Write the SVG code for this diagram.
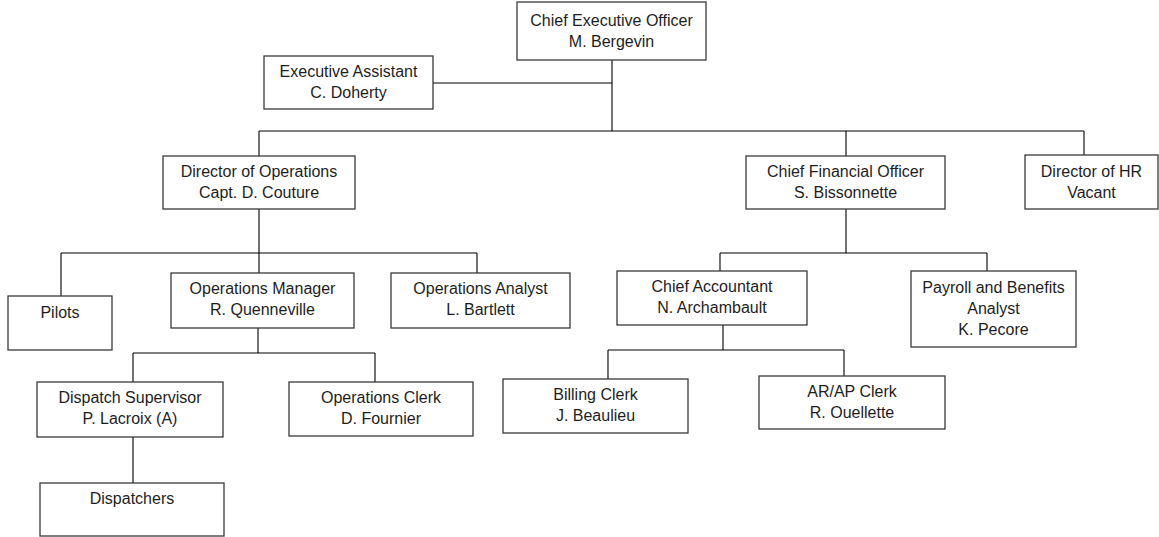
<svg xmlns="http://www.w3.org/2000/svg" width="1159" height="537" viewBox="0 0 1159 537">
<style>
.box{fill:#fff;stroke:#3a3a3a;stroke-width:1.3}
.t{font-family:"Liberation Sans",Arial,sans-serif;font-size:16px;fill:#1e1e1e;text-anchor:middle}
.c{stroke:#000;stroke-width:1.1;fill:none}
</style>
<rect width="1159" height="537" fill="#fff"/>
<g id="connectors">
<path class="c" d="M612 60V131M433 83H612M259 131H1084M259 131V156M846 131V156M1084 131V155"/>
<path class="c" d="M259 209V253M61 253H477M61 253V296M259 253V273M477 253V273"/>
<path class="c" d="M258 328V353M133 353H375M133 353V382M375 353V382M133 437V483"/>
<path class="c" d="M846 209V253M720 253H987M720 253V271M987 253V271"/>
<path class="c" d="M723 325V350M608 350H844M608 350V379M844 350V376"/>
</g>
<g id="ceo"><rect class="box" x="517" y="2" width="189" height="58"/><text class="t" x="611.5" y="26">Chief Executive Officer</text><text class="t" x="611.5" y="47">M. Bergevin</text></g>
<g id="exec-assistant"><rect class="box" x="264" y="56" width="169" height="53"/><text class="t" x="348.5" y="77">Executive Assistant</text><text class="t" x="348.5" y="98">C. Doherty</text></g>
<g id="dir-ops"><rect class="box" x="163" y="156" width="192" height="53"/><text class="t" x="259" y="177">Director of Operations</text><text class="t" x="259" y="198">Capt. D. Couture</text></g>
<g id="cfo"><rect class="box" x="746" y="156" width="199" height="53"/><text class="t" x="845.5" y="177">Chief Financial Officer</text><text class="t" x="845.5" y="198">S. Bissonnette</text></g>
<g id="dir-hr"><rect class="box" x="1025" y="155" width="133" height="54"/><text class="t" x="1091.5" y="177">Director of HR</text><text class="t" x="1091.5" y="198">Vacant</text></g>
<g id="pilots"><rect class="box" x="8" y="296" width="104" height="54"/><text class="t" x="60" y="318">Pilots</text></g>
<g id="ops-manager"><rect class="box" x="171" y="273" width="183" height="55"/><text class="t" x="262.5" y="294">Operations Manager</text><text class="t" x="262.5" y="315">R. Quenneville</text></g>
<g id="ops-analyst"><rect class="box" x="391" y="273" width="179" height="55"/><text class="t" x="480.5" y="294">Operations Analyst</text><text class="t" x="480.5" y="315">L. Bartlett</text></g>
<g id="chief-accountant"><rect class="box" x="617" y="271" width="190" height="54"/><text class="t" x="712" y="292">Chief Accountant</text><text class="t" x="712" y="313">N. Archambault</text></g>
<g id="payroll"><rect class="box" x="911" y="271" width="165" height="76"/><text class="t" x="993.5" y="293">Payroll and Benefits</text><text class="t" x="993.5" y="314">Analyst</text><text class="t" x="993.5" y="335">K. Pecore</text></g>
<g id="dispatch-supervisor"><rect class="box" x="37" y="382" width="186" height="55"/><text class="t" x="130" y="403">Dispatch Supervisor</text><text class="t" x="130" y="424">P. Lacroix (A)</text></g>
<g id="ops-clerk"><rect class="box" x="289" y="382" width="184" height="54"/><text class="t" x="381" y="403">Operations Clerk</text><text class="t" x="381" y="424">D. Fournier</text></g>
<g id="dispatchers"><rect class="box" x="40" y="483" width="184" height="53"/><text class="t" x="132" y="504">Dispatchers</text></g>
<g id="billing-clerk"><rect class="box" x="503" y="379" width="185" height="54"/><text class="t" x="595.5" y="400">Billing Clerk</text><text class="t" x="595.5" y="421">J. Beaulieu</text></g>
<g id="arap-clerk"><rect class="box" x="759" y="376" width="186" height="53"/><text class="t" x="852" y="397">AR/AP Clerk</text><text class="t" x="852" y="418">R. Ouellette</text></g>
</svg>
